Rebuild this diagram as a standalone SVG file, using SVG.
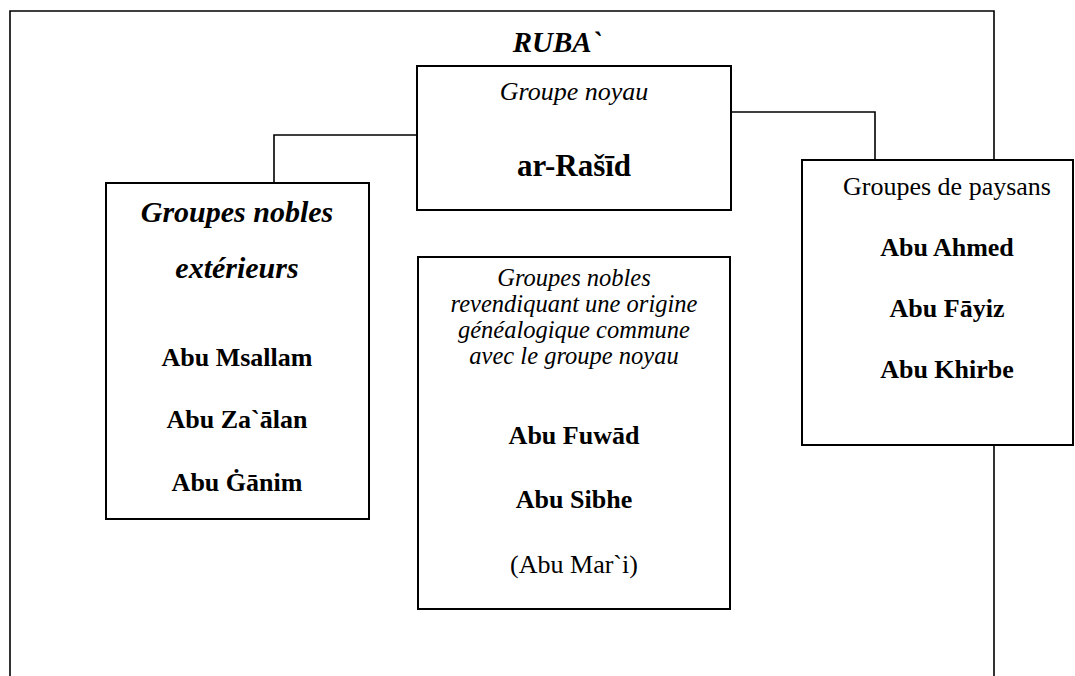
<svg xmlns="http://www.w3.org/2000/svg" width="1075" height="676" viewBox="0 0 1075 676">
<style>
.box{fill:#fff;stroke:#000;stroke-width:2}
.ln{fill:none;stroke:#000;stroke-width:1.6}
text{font-family:"Liberation Serif","Times New Roman",serif;fill:#000;text-anchor:middle}
.it{font-style:italic;font-size:26px}
.it2{font-style:italic;font-size:24.5px}
.b{font-weight:bold;font-size:26px}
.r{font-size:26px}
.bi{font-weight:bold;font-style:italic}
</style>
<rect width="1075" height="676" fill="#fff"/>
<g id="frame">
<path class="ln" d="M10,680 V11 H994 V680"/>
<text class="bi" x="557" y="52" font-size="29">RUBA`</text>
</g>
<g id="connectors">
<path class="ln" d="M417,135 H274 V183"/>
<path class="ln" d="M731,112 H875 V160"/>
</g>
<g id="core">
<rect class="box" x="417" y="66" width="314" height="144"/>
<text class="it" x="574" y="100">Groupe noyau</text>
<text x="574" y="176" font-weight="bold" font-size="31">ar-Rašīd</text>
</g>
<g id="exterior">
<rect class="box" x="106" y="183" width="263" height="336"/>
<text class="bi" x="237" y="222" font-size="30">Groupes nobles</text>
<text class="bi" x="237" y="278" font-size="30">extérieurs</text>
<text class="b" x="237" y="366">Abu Msallam</text>
<text class="b" x="237" y="428">Abu Za`ālan</text>
<text class="b" x="237" y="491">Abu Ġānim</text>
</g>
<g id="common-origin">
<rect class="box" x="418" y="257" width="312" height="352"/>
<text class="it2" x="574" y="286">Groupes nobles</text>
<text class="it2" x="574" y="312">revendiquant une origine</text>
<text class="it2" x="574" y="338">généalogique commune</text>
<text class="it2" x="574" y="364">avec le groupe noyau</text>
<text class="b" x="574" y="444">Abu Fuwād</text>
<text class="b" x="574" y="508">Abu Sibhe</text>
<text class="r" x="574" y="573">(Abu Mar`i)</text>
</g>
<g id="peasants">
<rect class="box" x="802" y="160" width="271" height="285"/>
<text class="r" x="947" y="195">Groupes de paysans</text>
<text class="b" x="947" y="256">Abu Ahmed</text>
<text class="b" x="947" y="317">Abu Fāyiz</text>
<text class="b" x="947" y="378">Abu Khirbe</text>
</g>
</svg>
